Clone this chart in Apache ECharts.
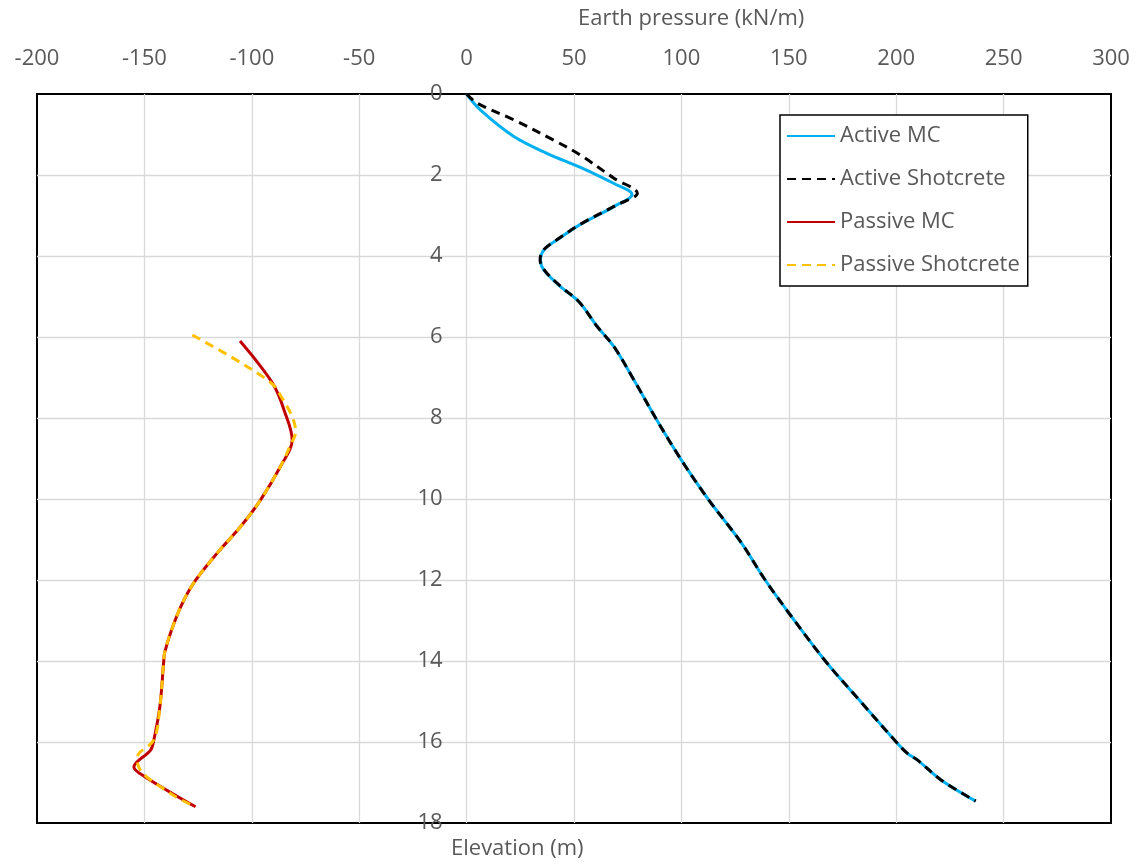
<!DOCTYPE html>
<html>
<head>
<meta charset="utf-8">
<script src="https://cdn.jsdelivr.net/npm/echarts@6/dist/echarts.min.js"></script>
<style>
  html, body { margin: 0; padding: 0; background: #ffffff; }
  #chart { width: 1137px; height: 864px; }
</style>
</head>
<body>
<div id="chart"></div>
<script>
// Earth pressure (kN/m) against elevation (m) for the two wall types
const seriesNames = ['Active MC', 'Active Shotcrete', 'Passive MC', 'Passive Shotcrete'];

const activeMcPressure = [0, 6.5, 22, 37.6, 53, 68.6, 77, 68.6, 53, 42.2, 36, 34.4, 36, 43.8, 52.3, 60.8, 68.6, 77.9, 88, 100, 112.4, 127.6, 139, 150.8, 167, 183.4, 200, 205.2, 209.8, 220.7, 237];
const activeMcDepth    = [0, 0.4, 1.05, 1.47, 1.81, 2.21, 2.48, 2.78, 3.22, 3.6, 3.85, 4.1, 4.35, 4.76, 5.13, 5.74, 6.24, 7.06, 8, 9.04, 10, 11.06, 12, 12.87, 14, 15, 16, 16.28, 16.44, 16.93, 17.46];

const activeShotPressure = [0, 5, 22, 40.6, 53, 68.6, 79.5, 69.5, 53.5, 42, 35.5, 34.2, 36.5, 44, 52.3, 60.8, 68.6, 77.9, 88, 100, 112.4, 127.6, 139, 150.8, 167, 183.4, 200, 205.2, 209.8, 220.7, 237];
const activeShotDepth    = [0, 0.23, 0.64, 1.14, 1.51, 2.08, 2.45, 2.75, 3.2, 3.6, 3.87, 4.1, 4.37, 4.76, 5.13, 5.74, 6.24, 7.06, 8, 9.04, 10, 11.06, 12, 12.87, 14, 15, 16, 16.28, 16.44, 16.93, 17.46];

const passiveMcPressure = [-105.5, -97, -89.7, -85, -81.2, -86.6, -95.9, -105.2, -116, -127, -133, -137.8, -140.6, -141, -142.8, -145.6, -147.1, -154.9, -150, -126.2];
const passiveMcDepth    = [6.1, 6.65, 7.2, 7.8, 8.55, 9.19, 10.02, 10.68, 11.33, 12.07, 12.65, 13.3, 13.8, 14, 15.13, 15.95, 16.2, 16.62, 16.85, 17.6];

const passiveShotPressure = [-127.7, -110, -92.8, -88.1, -79.6, -82, -86.6, -95.9, -105.2, -116, -127, -133, -137.8, -140.6, -141, -142.8, -145.6, -153.2, -152.8, -137.8, -126.2];
const passiveShotDepth    = [5.95, 6.48, 7.06, 7.31, 8.34, 8.67, 9.19, 10.02, 10.68, 11.33, 12.07, 12.65, 13.3, 13.8, 14, 15.13, 15.95, 16.37, 16.6, 17.27, 17.6];

const pressureTicks = { min: -200, max: 300, step: 50 };
const depthTicks = { min: 0, max: 18, step: 2 };

const FONT = '"Open Sans", "Liberation Sans", sans-serif';
const TEXT_COLOR = '#595959';
const GRID_COLOR = '#d9d9d9';

const GRID_LEFT = 37;
const GRID_WIDTH = 1074;
// shift the depth axis inward so it sits on the zero-pressure line
const zeroOffset = GRID_WIDTH * (0 - pressureTicks.min) / (pressureTicks.max - pressureTicks.min);

function pairs(xs, ys) {
  return xs.map((x, i) => [x, ys[i]]);
}

function lineSeries(name, xs, ys, color, dashed) {
  return {
    name: name,
    type: 'line',
    data: pairs(xs, ys),
    symbol: 'none',
    showSymbol: false,
    smooth: 0.35,
    clip: true,
    lineStyle: {
      color: color,
      width: 3,
      type: dashed ? [9, 6] : 'solid'
    },
    itemStyle: { color: color },
    emphasis: { disabled: true }
  };
}

const splitLineStyle = {
  show: true,
  showMinLine: false,
  showMaxLine: false,
  lineStyle: { color: GRID_COLOR, width: 1.3 }
};

const chart = echarts.init(document.getElementById('chart'), null, { renderer: 'canvas' });

chart.setOption({
  backgroundColor: '#ffffff',
  animation: false,
  textStyle: { fontFamily: FONT },
  title: [
    {
      text: 'Earth pressure (kN/m)',
      left: 578, top: 8, padding: 0,
      textStyle: { fontFamily: FONT, fontSize: 22, fontWeight: 'normal', color: TEXT_COLOR }
    },
    {
      text: 'Elevation (m)',
      left: 451, top: 838, padding: 0,
      textStyle: { fontFamily: FONT, fontSize: 22, fontWeight: 'normal', color: TEXT_COLOR }
    }
  ],
  legend: {
    orient: 'vertical',
    left: 780, top: 115,
    padding: [10, 8, 10, 6],
    itemGap: 21,
    itemWidth: 48,
    itemHeight: 14,
    borderColor: '#000000',
    borderWidth: 1.5,
    backgroundColor: '#ffffff',
    itemStyle: { opacity: 0 },
    textStyle: { fontFamily: FONT, fontSize: 22, color: TEXT_COLOR },
    data: seriesNames
  },
  grid: {
    left: GRID_LEFT, top: 94, width: GRID_WIDTH, height: 729,
    show: true,
    borderColor: '#000000',
    borderWidth: 2,
    backgroundColor: 'transparent',
    containLabel: false,
    outerBoundsMode: 'none'
  },
  xAxis: {
    type: 'value',
    position: 'top',
    min: pressureTicks.min,
    max: pressureTicks.max,
    interval: pressureTicks.step,
    axisLine: { show: false, onZero: false },
    axisTick: { show: false },
    axisLabel: { fontFamily: FONT, fontSize: 22, color: TEXT_COLOR, margin: 24 },
    splitLine: splitLineStyle
  },
  yAxis: {
    type: 'value',
    position: 'left',
    offset: -zeroOffset,
    inverse: true,
    min: depthTicks.min,
    max: depthTicks.max,
    interval: depthTicks.step,
    axisLine: { show: false, onZero: false },
    axisTick: { show: false },
    axisLabel: { fontFamily: FONT, fontSize: 22, color: TEXT_COLOR, margin: 24 },
    splitLine: splitLineStyle
  },
  series: [
    lineSeries(seriesNames[0], activeMcPressure, activeMcDepth, '#00b0f0', false),
    lineSeries(seriesNames[1], activeShotPressure, activeShotDepth, '#000000', true),
    lineSeries(seriesNames[2], passiveMcPressure, passiveMcDepth, '#c00000', false),
    lineSeries(seriesNames[3], passiveShotPressure, passiveShotDepth, '#ffc000', true)
  ]
});
</script>
</body>
</html>
